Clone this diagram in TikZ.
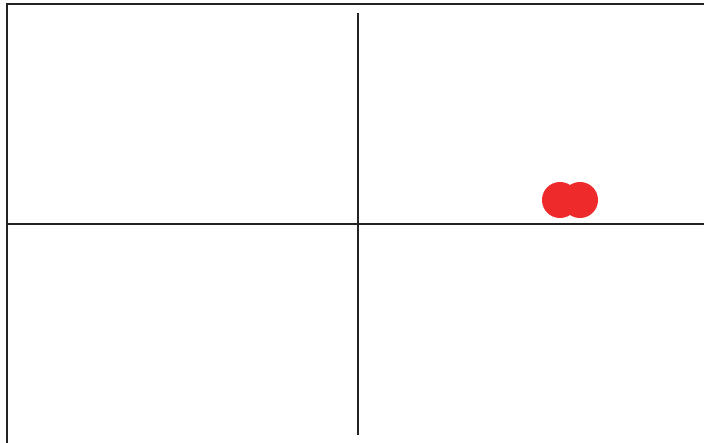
\documentclass[tikz,border=0pt]{standalone}
\definecolor{linegray}{HTML}{222222}
\definecolor{dotred}{HTML}{EE2A2A}
\tikzset{
  gridline/.style={draw=linegray, line width=2pt},
  reddot/.style={fill=dotred, draw=none}
}
\begin{document}
\begin{tikzpicture}[x=1pt,y=-1pt]
  \useasboundingbox (0,0) rectangle (704,443);
  \fill[white] (0,0) rectangle (704,443);
  % outer frame (top and left)
  \draw[gridline] (7,443) -- (7,4) -- (704,4);
  % horizontal divider
  \draw[gridline] (7,224) -- (704,224);
  % vertical divider
  \draw[gridline] (358,13) -- (358,435);
  % red dots
  \fill[reddot] (560,200) circle (18);
  \fill[reddot] (580,200) circle (18);
\end{tikzpicture}
\end{document}
